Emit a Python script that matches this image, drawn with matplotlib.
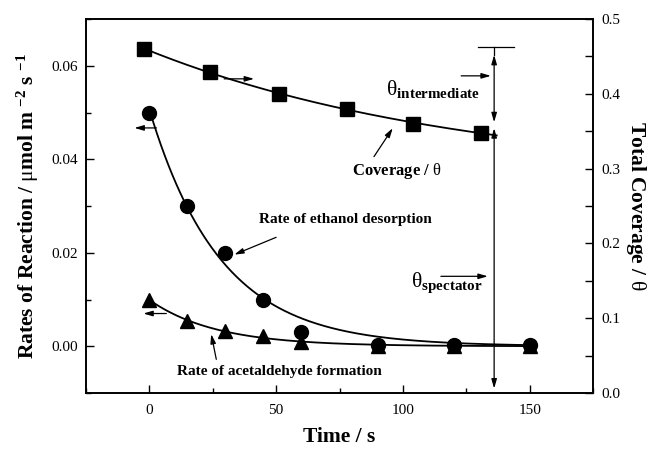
import numpy as np
import matplotlib
matplotlib.use("Agg")
import matplotlib.pyplot as plt
from matplotlib.ticker import MultipleLocator, FormatStrFormatter

plt.rcParams['font.family'] = ['Liberation Serif', 'DejaVu Serif']
plt.rcParams['mathtext.fontset'] = 'custom'
plt.rcParams['mathtext.rm'] = 'Liberation Serif'
plt.rcParams['mathtext.it'] = 'Liberation Serif:italic'
plt.rcParams['mathtext.bf'] = 'Liberation Serif:bold'

# ---- data ----
t_cov = [-2, 24, 51, 78, 104, 131]
coverage = [0.460, 0.429, 0.400, 0.380, 0.360, 0.348]

t_rate = [0, 15, 30, 45, 60, 90, 120, 150]
rate_ethanol = [0.050, 0.030, 0.020, 0.010, 0.003, 0.0003, 0.0002, 0.0003]
rate_acetaldehyde = [0.010, 0.0053, 0.0032, 0.0021, 0.0010, 0.0001, 0.0001, 0.0001]

x_ticks = [0, 50, 100, 150]
left_ticks = [0.00, 0.02, 0.04, 0.06]
right_ticks = [0.0, 0.1, 0.2, 0.3, 0.4, 0.5]


def fit_exp(t, y, offset=True):
    """least-squares fit y = a*exp(-t/tau) (+ c)"""
    t = np.asarray(t, float); y = np.asarray(y, float)
    best = None
    for tau in np.linspace(2, 400, 4000):
        cols = [np.exp(-t / tau)] + ([np.ones_like(t)] if offset else [])
        A = np.vstack(cols).T
        coef, *_ = np.linalg.lstsq(A, y, rcond=None)
        r = np.sum((A @ coef - y) ** 2)
        if best is None or r < best[0]:
            best = (r, tau, coef)
    _, tau, coef = best
    a = coef[0]
    c = coef[1] if offset else 0.0
    return lambda tt: a * np.exp(-np.asarray(tt) / tau) + c


fig = plt.figure(figsize=(6.47, 4.5), dpi=100)
W, H = 647, 450
L, R, T, B = 86, 593, 19, 393
ax = fig.add_axes([L / W, 1 - B / H, (R - L) / W, (B - T) / H])
ax2 = ax.twinx()

ax.set_xlim(-25, 175)
ax.set_ylim(-0.01, 0.07)
ax2.set_ylim(0, 0.5)

for a in (ax, ax2):
    for s in a.spines.values():
        s.set_linewidth(1.2)

ax.xaxis.set_minor_locator(MultipleLocator(25))
ax.set_xticks(x_ticks)
ax.set_yticks(left_ticks)
ax.yaxis.set_minor_locator(MultipleLocator(0.01))
ax.yaxis.set_major_formatter(FormatStrFormatter('%.2f'))
ax2.set_yticks(right_ticks)
ax2.yaxis.set_minor_locator(MultipleLocator(0.05))
ax2.yaxis.set_major_formatter(FormatStrFormatter('%.1f'))

ax.tick_params(axis='both', which='both', direction='in', top=False, right=False,
               labelsize=11, width=1.0)
ax.tick_params(axis='both', which='major', length=6)
ax.tick_params(axis='both', which='minor', length=3.5)
ax.tick_params(axis='x', pad=8)
ax.tick_params(axis='y', pad=6)
ax2.tick_params(axis='y', which='both', direction='in', labelsize=11, width=1.0, pad=6)
ax2.tick_params(axis='y', which='major', length=6)
ax2.tick_params(axis='y', which='minor', length=6)

# ---- curves ----
f_eth = fit_exp(t_rate, rate_ethanol, offset=False)
f_ace = fit_exp(t_rate, rate_acetaldehyde, offset=False)
f_cov = fit_exp(t_cov, coverage)
tt = np.linspace(0, 150, 300)
ax.plot(tt, f_eth(tt), color='black', lw=1.3, zorder=2)
ax.plot(tt, f_ace(tt), color='black', lw=1.3, zorder=2)
tc = np.linspace(-2, 137, 300)
ax2.plot(tc, f_cov(tc), color='black', lw=1.3, zorder=2)

ax.plot(t_rate, rate_ethanol, 'o', color='black', ms=10, zorder=3)
ax.plot(t_rate, rate_acetaldehyde, '^', color='black', ms=10, zorder=3)
ax2.plot(t_cov, coverage, 's', color='black', ms=9.5, zorder=3)

# ---- annotations ----
arw = dict(arrowstyle='-|>,head_length=0.55,head_width=0.16', color='black', lw=0.9,
           shrinkA=0, shrinkB=0)
darw = dict(arrowstyle='<|-|>,head_length=0.55,head_width=0.16', color='black', lw=0.9,
            shrinkA=0, shrinkB=0)

# small axis-indicator arrows
ax.annotate('', xy=(-5.9, 0.0467), xytext=(2.8, 0.0467), arrowprops=arw)
ax.annotate('', xy=(-2.4, 0.0070), xytext=(6.7, 0.0070), arrowprops=arw)
ax2.annotate('', xy=(41.3, 0.420), xytext=(29.5, 0.420), arrowprops=arw)

# labels with pointers
ax.text(77.2, 0.0271, 'Rate of ethanol desorption', ha='center', va='center',
        fontsize=11, fontweight='bold')
ax.annotate('', xy=(33.5, 0.0196), xytext=(50, 0.0233), arrowprops=arw)
ax.text(51.2, -0.0053, 'Rate of acetaldehyde formation', ha='center', va='center',
        fontsize=11, fontweight='bold')
ax.annotate('', xy=(24.4, 0.0026), xytext=(26.4, -0.0028), arrowprops=arw)
ax2.text(97.6, 0.297, r'Coverage / $\mathrm{\theta}$', ha='center', va='center',
         fontsize=12, fontweight='bold')
ax2.annotate('', xy=(96, 0.354), xytext=(88.6, 0.316), arrowprops=arw)

# coverage split markers
xv = 136
ax2.plot([129.5, 144], [0.4625, 0.4625], color='black', lw=0.9)
ax2.plot([xv, xv], [0.4625, 0.452], color='black', lw=0.9)
ax2.annotate('', xy=(xv, 0.452), xytext=(xv, 0.362), arrowprops=darw)
ax2.annotate('', xy=(xv, 0.354), xytext=(xv, 0.006), arrowprops=darw)
ax2.annotate('', xy=(134.7, 0.424), xytext=(123, 0.424), arrowprops=arw)
ax2.annotate('', xy=(133.5, 0.156), xytext=(115, 0.156), arrowprops=arw)
ax2.text(93.2, 0.398, r'$\mathrm{\theta}_{\mathbf{intermediate}}$', ha='left',
         va='baseline', fontsize=15.5)
ax2.text(103.2, 0.142, r'$\mathrm{\theta}_{\mathbf{spectator}}$', ha='left',
         va='baseline', fontsize=15.5)

# axis labels
ax.set_xlabel('Time / s', fontsize=15.5, fontweight='bold', labelpad=7)
ax.set_ylabel(r'Rates of Reaction / $\mathrm{\mu}$mol m $^{\mathbf{-2}}$ s $^{\mathbf{-1}}$',
              fontsize=15.5, fontweight='bold', labelpad=7)
ax2.set_ylabel(r'Total Coverage / $\mathrm{\theta}$', fontsize=15.5, fontweight='bold',
               rotation=-90, labelpad=20)

fig.savefig('out.png', dpi=100)
